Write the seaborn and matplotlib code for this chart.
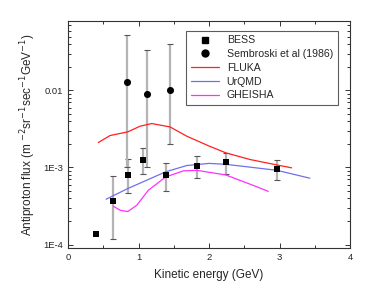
import numpy as np
import pandas as pd
import matplotlib
matplotlib.use("Agg")
import matplotlib.pyplot as plt
import seaborn as sns
from matplotlib.ticker import LogLocator, NullFormatter, FixedLocator, MultipleLocator
from matplotlib.lines import Line2D

sns.set_style("ticks")
plt.rcParams['font.family'] = ['Liberation Sans', 'DejaVu Sans']

# BESS data
bess_x = [0.40, 0.634, 0.847, 1.064, 1.386, 1.825, 2.237, 2.96]
bess_y = [1.37e-4, 3.65e-4, 8.0e-4, 1.24e-3, 8.0e-4, 1.05e-3, 1.17e-3, 9.6e-4]
bess_hi = [np.nan, 7.8e-4, 1.27e-3, 1.77e-3, 1.15e-3, 1.43e-3, 1.55e-3, 1.26e-3]
bess_lo = [np.nan, 1.17e-4, 4.7e-4, 8.35e-4, 4.9e-4, 7.2e-4, 8.35e-4, 6.8e-4]

# Sembroski et al (1986)
semb_x = [0.837, 1.125, 1.447]
semb_y = [0.0129, 8.95e-3, 0.010]
semb_hi = [0.0523, 0.0337, 0.040]
semb_lo = [1.0e-3, 1.0e-3, 2.0e-3]

# Model curves
fluka_x = [0.43, 0.596, 0.847, 1.02, 1.187, 1.447, 1.683, 2.0, 2.237, 2.58, 2.96, 3.17]
fluka_y = [2.11e-3, 2.6e-3, 2.9e-3, 3.43e-3, 3.72e-3, 3.36e-3, 2.55e-3, 1.9e-3, 1.55e-3, 1.27e-3, 1.08e-3, 9.9e-4]
urqmd_x = [0.539, 0.847, 1.116, 1.386, 1.683, 2.0, 2.237, 2.96, 3.43]
urqmd_y = [3.87e-4, 5.33e-4, 6.84e-4, 8.8e-4, 1.06e-3, 1.13e-3, 1.1e-3, 9.2e-4, 7.26e-4]
gheisha_x = [0.643, 0.738, 0.847, 0.974, 1.139, 1.386, 1.636, 1.825, 2.237, 2.63, 2.84]
gheisha_y = [3.14e-4, 2.79e-4, 2.68e-4, 3.23e-4, 5.07e-4, 7.55e-4, 9.04e-4, 9.2e-4, 8.0e-4, 5.84e-4, 4.9e-4]

x_ticks = [0, 1, 2, 3, 4]
y_ticks = [1e-4, 1e-3, 1e-2]
y_ticklabels = ["1E-4", "1E-3", "0.01"]

fig = plt.figure(figsize=(3.74, 3.07), dpi=100)
ax = fig.add_axes([0.182, 0.192, 0.754, 0.740])

models = pd.concat([
    pd.DataFrame({"x": fluka_x, "y": fluka_y, "model": "FLUKA"}),
    pd.DataFrame({"x": urqmd_x, "y": urqmd_y, "model": "UrQMD"}),
    pd.DataFrame({"x": gheisha_x, "y": gheisha_y, "model": "GHEISHA"}),
])
palette = {"FLUKA": "#ff2020", "UrQMD": "#6f6fef", "GHEISHA": "#ff30ff"}

# error bars
for xs, ys, hi, lo in [(bess_x, bess_y, bess_hi, bess_lo), (semb_x, semb_y, semb_hi, semb_lo)]:
    ys_a = np.array(ys); hi_a = np.array(hi); lo_a = np.array(lo)
    m = ~np.isnan(hi_a)
    ax.errorbar(np.array(xs)[m], ys_a[m], yerr=[ys_a[m] - lo_a[m], hi_a[m] - ys_a[m]],
                fmt='none', ecolor='#b4b4b4', elinewidth=1.6, capsize=0, zorder=1)
    ax.errorbar(np.array(xs)[m], ys_a[m], yerr=[ys_a[m] - lo_a[m], hi_a[m] - ys_a[m]],
                fmt='none', ecolor='#555555', elinewidth=0, capsize=2.5, capthick=0.8, zorder=1)

sns.lineplot(data=models, x="x", y="y", hue="model", palette=palette, sort=False,
             linewidth=0.9, ax=ax, legend=False, zorder=2)

sns.scatterplot(x=bess_x, y=bess_y, marker='s', color='black', s=22, ax=ax, zorder=3, linewidth=0)
sns.scatterplot(x=semb_x, y=semb_y, marker='o', color='black', s=26, ax=ax, zorder=3, linewidth=0)

ax.set_yscale('log')
ax.set_xlim(0, 4)
ax.set_ylim(9e-5, 0.08)

ax.xaxis.set_major_locator(FixedLocator(x_ticks))
ax.xaxis.set_minor_locator(MultipleLocator(0.5))
ax.set_xticklabels([str(t) for t in x_ticks])
ax.yaxis.set_major_locator(FixedLocator(y_ticks))
ax.set_yticklabels(y_ticklabels)
ax.yaxis.set_minor_locator(LogLocator(base=10, subs=np.arange(2, 10)))
ax.yaxis.set_minor_formatter(NullFormatter())

ax.tick_params(which='both', direction='in', top=True, right=True, labelsize=6.8, color='#333333', width=0.7)
ax.tick_params(which='major', length=3.5)
ax.tick_params(which='minor', length=2)
for s in ax.spines.values():
    s.set_linewidth(0.8)
    s.set_color('#333333')

ax.set_xlabel("Kinetic energy (GeV)", fontsize=8.5, labelpad=5)
ax.set_ylabel(r"Antiproton flux (m $^{-2}$sr$^{-1}$sec$^{-1}$GeV$^{-1}$)", fontsize=8.5, labelpad=4)

handles = [
    Line2D([], [], marker='s', color='black', linestyle='none', markersize=4.5),
    Line2D([], [], marker='o', color='black', linestyle='none', markersize=5),
    Line2D([], [], color=palette["FLUKA"], linewidth=0.9),
    Line2D([], [], color=palette["UrQMD"], linewidth=0.9),
    Line2D([], [], color=palette["GHEISHA"], linewidth=0.9),
]
labels = ["BESS", "Sembroski et al (1986)", "FLUKA", "UrQMD", "GHEISHA"]
leg = ax.legend(handles, labels, loc='upper right', bbox_to_anchor=(0.975, 0.98), fontsize=7.6,
                frameon=True, fancybox=False, edgecolor='#333333', handlelength=2.7,
                labelspacing=0.35, borderpad=0.45, handletextpad=0.7)
leg.get_frame().set_linewidth(0.8)

fig.savefig("out.png", dpi=100)
